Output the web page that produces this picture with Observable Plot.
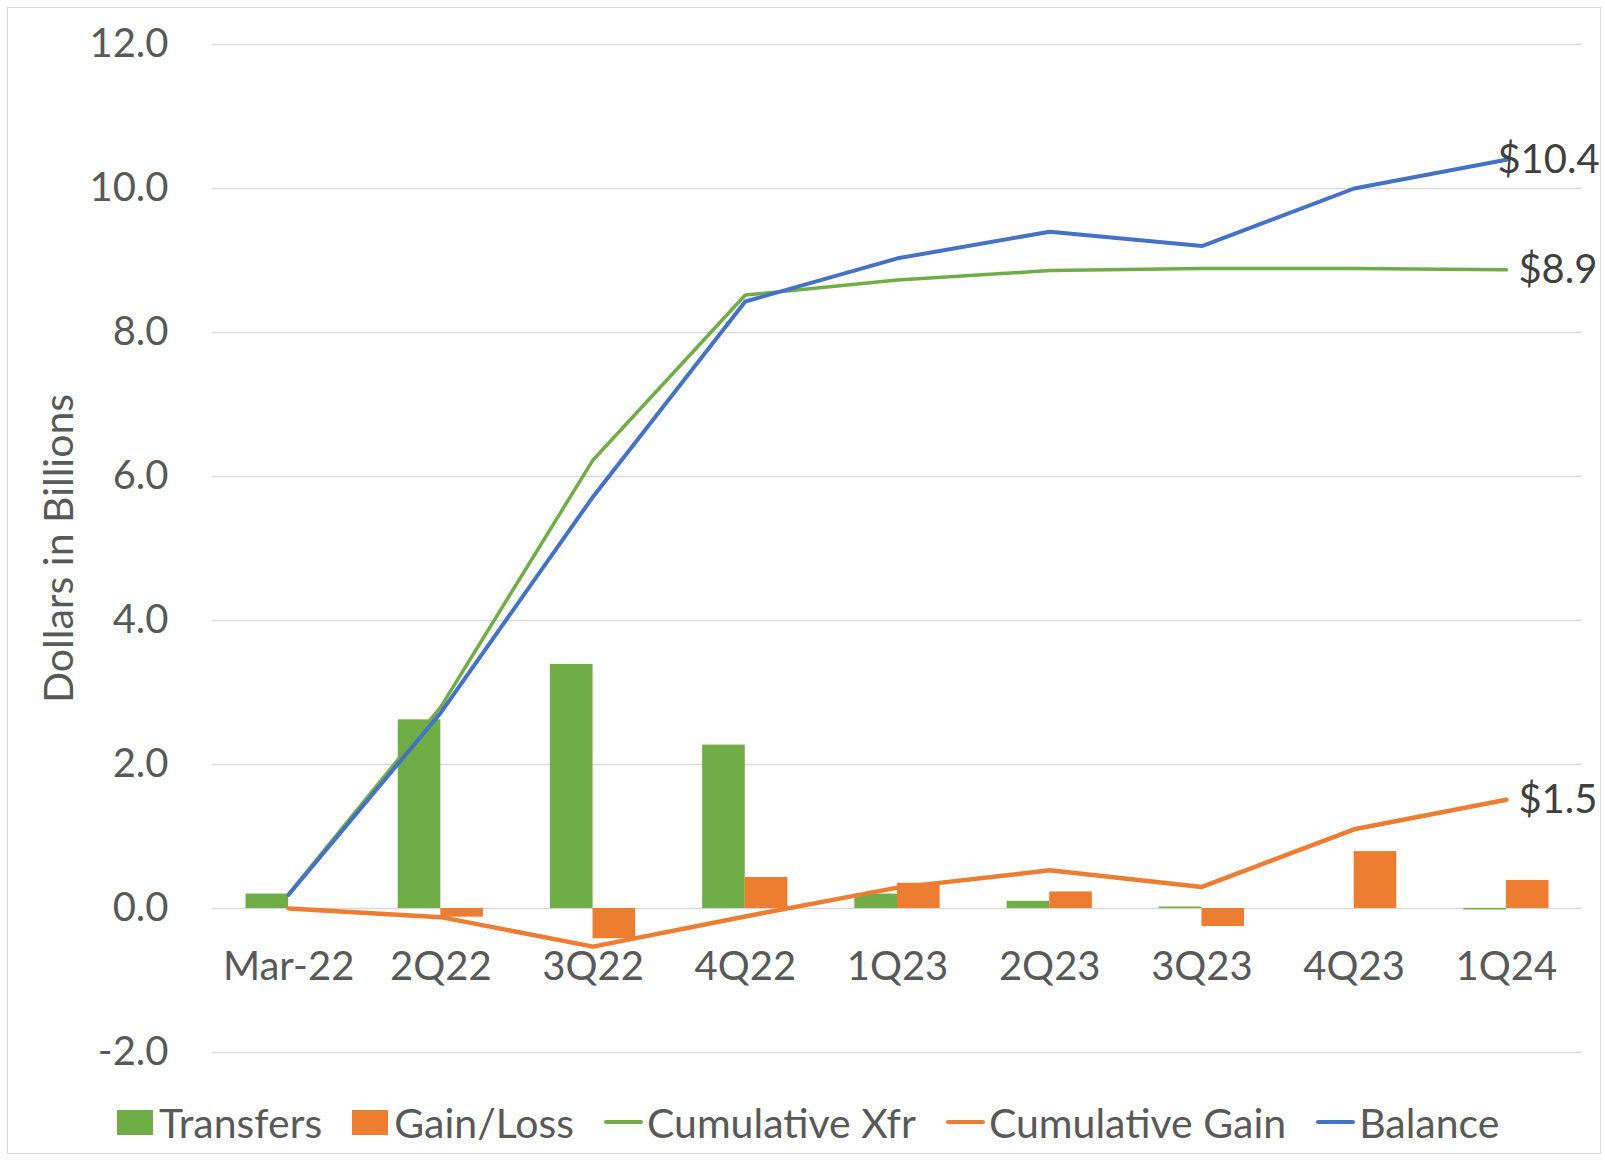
<!DOCTYPE html>
<html>
<head>
<meta charset="utf-8">
<script src="https://cdn.jsdelivr.net/npm/d3@7"></script>
<script src="https://cdn.jsdelivr.net/npm/@observablehq/plot@0.6"></script>
<style>
  html, body { margin: 0; padding: 0; background: #fff; }
  #wrap { position: relative; width: 1605px; height: 1160px; overflow: hidden; }
  #frame { position: absolute; left: 7px; top: 7px; width: 1594px; height: 1147px; border: 1.5px solid #d9d9d9; box-sizing: border-box; }
  #chart { position: absolute; left: 0; top: 0; }
  #legend { position: absolute; left: 117px; top: 1100px; height: 44px; display: flex; align-items: center;
            font-family: Lato, "Liberation Sans", sans-serif; font-size: 41px; color: #595959; white-space: nowrap; }
  .item { display: flex; align-items: center; margin-right: 30px; }
  .sq { flex: 0 0 36px; width: 36px; height: 25px; margin-right: 6px; }
  .ln { flex: 0 0 39px; width: 39px; height: 4px; border-radius: 2px; margin-right: 4px; }
</style>
</head>
<body>
<div id="wrap">
  <div id="frame"></div>
  <div id="chart"></div>
  <div id="legend"></div>
</div>
<script>
const categories = ["Mar-22", "2Q22", "3Q22", "4Q22", "1Q23", "2Q23", "3Q23", "4Q23", "1Q24"];
const transfers = [0.20, 2.62, 3.39, 2.27, 0.20, 0.10, 0.02, 0.00, -0.02];
const gainLoss = [0.00, -0.12, -0.42, 0.43, 0.35, 0.23, -0.25, 0.79, 0.39];
const cumulativeXfr = [0.20, 2.80, 6.23, 8.52, 8.73, 8.86, 8.89, 8.89, 8.87];
const cumulativeGain = [0.00, -0.12, -0.53, -0.11, 0.29, 0.53, 0.30, 1.10, 1.51];
const balance = [0.19, 2.72, 5.72, 8.43, 9.03, 9.40, 9.20, 10.00, 10.40];
const yTicks = [-2, 0, 2, 4, 6, 8, 10, 12];
const endLabels = ["$10.4", "$8.9", "$1.5"];
const seriesNames = ["Transfers", "Gain/Loss", "Cumulative Xfr", "Cumulative Gain", "Balance"];

const GREEN = "#70ad47", ORANGE = "#ed7d31", BLUE = "#4472c4";
const TEXT = "#595959";
const FONT = "Lato, 'Liberation Sans', sans-serif";

const n = categories.length;
const rows = d3.range(n).map(i => ({
  i, cat: categories[i], transfers: transfers[i], gain: gainLoss[i],
  cx: cumulativeXfr[i], cg: cumulativeGain[i], bal: balance[i]
}));
const last = rows[n - 1];
const BW = 0.28;

const chart = Plot.plot({
  width: 1605,
  height: 1075,
  marginLeft: 212,
  marginRight: 23,
  marginTop: 44,
  marginBottom: 23,
  x: {domain: [-0.5, n - 0.5], axis: null},
  y: {domain: [-2, 12], axis: null},
  style: {fontFamily: FONT, fontSize: "40px", color: TEXT, background: "transparent", overflow: "visible"},
  marks: [
    Plot.gridY(yTicks, {stroke: "#d9d9d9", strokeOpacity: 1, strokeWidth: 1.5}),
    Plot.axisY(yTicks, {tickSize: 0, tickPadding: 44, tickFormat: d => d.toFixed(1), label: null, fontSize: 40, fill: TEXT}),
    Plot.text(["Dollars in Billions"], {frameAnchor: "left", textAnchor: "middle", rotate: -90, dx: -153, fontSize: 41, fill: TEXT}),
    Plot.rectY(rows, {x1: d => d.i - BW, x2: d => d.i, y1: 0, y2: "transfers", fill: GREEN}),
    Plot.rectY(rows, {x1: d => d.i, x2: d => d.i + BW, y1: 0, y2: "gain", fill: ORANGE}),
    Plot.text(rows, {x: "i", y: 0, text: "cat", dy: 59, fontSize: 40, fill: TEXT}),
    Plot.line(rows, {x: "i", y: "cx", stroke: GREEN, strokeWidth: 3.5, strokeLinecap: "round", strokeLinejoin: "round"}),
    Plot.line(rows, {x: "i", y: "cg", stroke: ORANGE, strokeWidth: 4.5, strokeLinecap: "round", strokeLinejoin: "round"}),
    Plot.line(rows, {x: "i", y: "bal", stroke: BLUE, strokeWidth: 4, strokeLinecap: "round", strokeLinejoin: "round"}),
    Plot.text([last], {x: "i", y: "bal", text: () => endLabels[0], textAnchor: "start", dx: -9, fontSize: 40, fill: "#404040"}),
    Plot.text([last], {x: "i", y: "cx", text: () => endLabels[1], textAnchor: "start", dx: 12, fontSize: 40, fill: "#404040"}),
    Plot.text([last], {x: "i", y: "cg", text: () => endLabels[2], textAnchor: "start", dx: 12, fontSize: 40, fill: "#404040"})
  ]
});
document.getElementById("chart").appendChild(chart);

const legendKinds = ["sq", "sq", "ln", "ln", "ln"];
const legendColors = [GREEN, ORANGE, GREEN, ORANGE, BLUE];
const legend = document.getElementById("legend");
seriesNames.forEach((name, k) => {
  const item = document.createElement("div");
  item.className = "item";
  const sw = document.createElement("span");
  sw.className = legendKinds[k];
  sw.style.background = legendColors[k];
  const tx = document.createElement("span");
  tx.textContent = name;
  item.appendChild(sw);
  item.appendChild(tx);
  legend.appendChild(item);
});
</script>
</body>
</html>
